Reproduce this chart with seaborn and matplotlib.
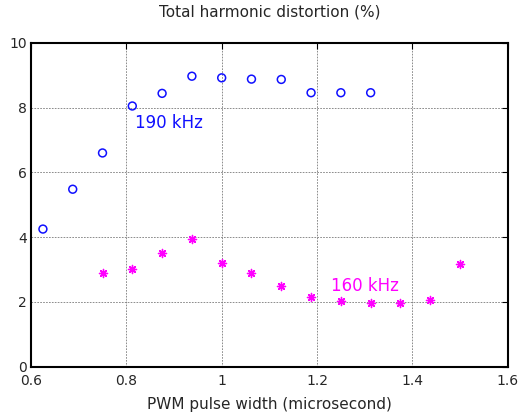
import matplotlib
matplotlib.use("Agg")
import matplotlib.pyplot as plt
import seaborn as sns
import pandas as pd

x190 = [0.625, 0.6875, 0.75, 0.8125, 0.875, 0.9375, 1.0, 1.0625, 1.125, 1.1875, 1.25, 1.3125]
thd190 = [4.25, 5.48, 6.6, 8.05, 8.44, 8.97, 8.92, 8.88, 8.87, 8.46, 8.46, 8.46]
x160 = [0.75, 0.8125, 0.875, 0.9375, 1.0, 1.0625, 1.125, 1.1875, 1.25, 1.3125, 1.375, 1.4375, 1.5]
thd160 = [2.90, 3.02, 3.52, 3.93, 3.20, 2.88, 2.50, 2.14, 2.04, 1.97, 1.97, 2.06, 3.16]
xticks = [0.6, 0.8, 1.0, 1.2, 1.4, 1.6]
xticklabels = ["0.6", "0.8", "1", "1.2", "1.4", "1.6"]
yticks = [0, 2, 4, 6, 8, 10]

sns.set_style("white")
plt.rcParams['font.family'] = ['DejaVu Sans']

fig = plt.figure(figsize=(5.22, 4.16), dpi=100)
ax = fig.add_axes([0.0594, 0.1185, 0.9132, 0.7785])

d190 = pd.DataFrame({"x": x190, "y": thd190})
d160 = pd.DataFrame({"x": x160, "y": thd160})
sns.scatterplot(data=d190, x="x", y="y", ax=ax, marker="o", s=32,
                facecolors="none", edgecolor="#1010ff", linewidth=1.1, zorder=3)
sns.scatterplot(data=d160, x="x", y="y", ax=ax, marker=(8, 2, 0), s=34,
                color="#ff00ff", edgecolor="#ff00ff", linewidth=1.0, zorder=3)

ax.set_xlim(0.6, 1.6)
ax.set_ylim(0, 10)
ax.set_xticks(xticks)
ax.set_xticklabels(xticklabels)
ax.set_yticks(yticks)
ax.grid(True, linestyle=(0, (2, 1.5)), color="#7a7a7a", linewidth=0.6)
ax.tick_params(direction="in", length=4, top=True, right=True, labelsize=10, color="black")
ax.tick_params(axis="x", pad=5)
ax.tick_params(axis="y", pad=3)
for s in ax.spines.values():
    s.set_color("black")
    s.set_linewidth(1.5)

ax.set_xlabel("PWM pulse width (microsecond)", fontsize=11, labelpad=7)
ax.set_ylabel("")
ax.set_title("Total harmonic distortion (%)", fontsize=11, pad=19)

ax.text(0.818, 7.52, "190 kHz", color="#1010ff", fontsize=12, va="center", ha="left")
ax.text(1.229, 2.49, "160 kHz", color="#ff00ff", fontsize=12, va="center", ha="left")

fig.savefig("out.png", dpi=100)
